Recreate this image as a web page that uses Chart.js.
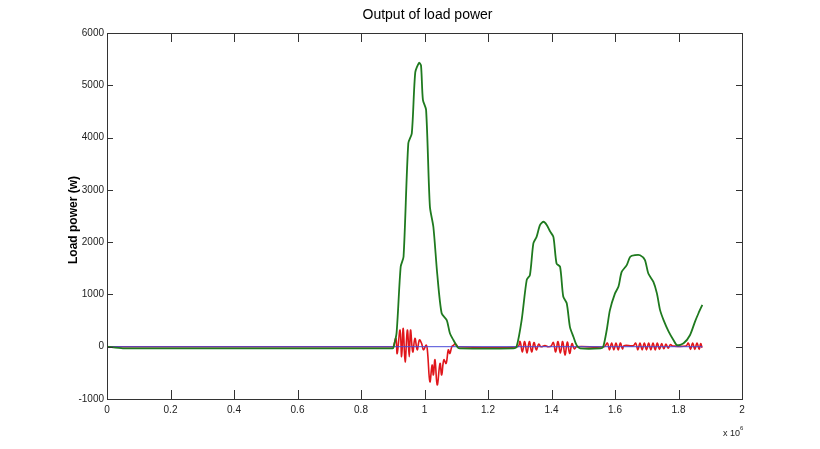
<!DOCTYPE html>
<html>
<head>
<meta charset="utf-8">
<script src="https://cdn.jsdelivr.net/npm/chart.js@4.4.1/dist/chart.umd.min.js"></script>
<style>
  html, body { margin: 0; padding: 0; background: #fff; }
  #wrap { width: 820px; height: 449px; }
</style>
</head>
<body>
<div id="wrap"><canvas id="loadChart"></canvas></div>
<script>
// x in units of 10^6, y in watts
const greenX = [0, 0.05, 0.60, 0.90, 0.903, 0.912, 0.925, 0.934, 0.949, 0.960, 0.971, 0.983, 0.989, 0.995, 1.005, 1.017, 1.028, 1.040, 1.054, 1.070, 1.080, 1.091, 1.103, 1.11, 1.28,
  1.290, 1.306, 1.322, 1.332, 1.343, 1.353, 1.364, 1.375, 1.385, 1.396, 1.406, 1.416, 1.427, 1.437, 1.448, 1.458, 1.469, 1.479, 1.49, 1.555,
  1.563, 1.574, 1.584, 1.600, 1.611, 1.621, 1.637, 1.648, 1.663, 1.679, 1.694, 1.705, 1.721, 1.732, 1.742, 1.753, 1.769, 1.784, 1.795, 1.816, 1.836, 1.852, 1.863, 1.875];
const greenY = [0, -30, -30, -30, 0, 260, 1530, 1720, 3890, 4080, 5250, 5430, 5380, 4720, 4530, 2680, 2290, 1400, 640, 510, 256, 128, 0, -30, -30,
  0, 510, 1280, 1370, 1980, 2100, 2330, 2390, 2330, 2200, 2100, 1590, 1530, 960, 830, 380, 190, 30, -30, -30,
  0, 320, 700, 1020, 1150, 1430, 1560, 1720, 1750, 1750, 1660, 1400, 1240, 1020, 700, 510, 290, 130, 30, 65, 220, 480, 640, 800];

const redX = [0, 0.90, 0.902, 0.910, 0.914, 0.923, 0.928, 0.933, 0.939, 0.946, 0.952, 0.956, 0.963, 0.970, 0.977, 0.984, 0.991, 0.997, 1.005, 1.009,
  1.017, 1.024, 1.028, 1.033, 1.040, 1.049, 1.054, 1.061, 1.068, 1.075, 1.080, 1.086, 1.092, 1.096, 1.101, 1.106,
  1.2935, 1.3008, 1.3082, 1.3155, 1.3228, 1.3302, 1.3375, 1.3449, 1.3522, 1.3596, 1.3669, 1.3795, 1.3900, 1.3984,
  1.4058, 1.4131, 1.4205, 1.4278, 1.4352, 1.4425, 1.4499, 1.4572, 1.4646, 1.4719, 1.4793,
  1.5654, 1.5759, 1.5827, 1.5895, 1.5963, 1.6031, 1.6100, 1.6168, 1.6236, 1.6283, 1.6577,
  1.6651, 1.6719, 1.6787, 1.6856, 1.6924, 1.6992, 1.7060, 1.7129, 1.7197, 1.7265, 1.7333, 1.7402, 1.7470, 1.7538, 1.7606, 1.7675, 1.7743, 1.7816, 1.8236,
  1.8310, 1.8378, 1.8446, 1.8514, 1.8583, 1.8651, 1.8698, 1.8740];
const redY = [0, 0, 0, 160, -130, 320, -190, 350, -290, 320, -190, 320, -100, 160, -60, 130, 60, -60, 30, -60,
  -670, -350, -540, -250, -730, -320, -540, -250, -320, -60, -130, 0, 30, 60, 30, 0,
  0, 100, -100, 100, -120, 100, -100, 80, -60, 50, 0, 20, 0, 10,
  80, -100, 100, -120, 100, -160, 90, -130, 60, -40, 0,
  0, 70, -60, 70, -60, 70, -60, 70, -40, 20, 20,
  70, -60, 70, -60, 70, -60, 70, -60, 70, -60, 70, -50, 60, -40, 50, -30, 40, 15, 15,
  70, -50, 70, -50, 70, -50, 60, -20];

const blueX = [0, 1.875];
const blueY = [0, 0];

const xTicks = [0, 0.2, 0.4, 0.6, 0.8, 1, 1.2, 1.4, 1.6, 1.8, 2];
const yTicks = [-1000, 0, 1000, 2000, 3000, 4000, 5000, 6000];

const FONT = "'Liberation Sans', Arial, sans-serif";

function toPoints(xs, ys) {
  return xs.map((x, i) => ({ x: x, y: ys[i] }));
}

// MATLAB style box with inward tick marks, title, y label and exponent note
const matlabFrame = {
  id: 'matlabFrame',
  afterDraw(chart) {
    const { ctx, chartArea: a, scales } = chart;
    ctx.save();
    ctx.strokeStyle = '#333';
    ctx.lineWidth = 1;
    ctx.strokeRect(Math.round(a.left) + 0.5, Math.round(a.top) + 0.5,
      Math.round(a.right - a.left), Math.round(a.bottom - a.top));
    ctx.beginPath();
    xTicks.slice(1, -1).forEach(v => {
      const px = Math.round(scales.x.getPixelForValue(v)) + 0.5;
      ctx.moveTo(px, a.bottom); ctx.lineTo(px, a.bottom - 9);
      ctx.moveTo(px, a.top); ctx.lineTo(px, a.top + 9);
    });
    yTicks.slice(1, -1).forEach(v => {
      const py = Math.round(scales.y.getPixelForValue(v)) + 0.5;
      ctx.moveTo(a.left, py); ctx.lineTo(a.left + 6, py);
      ctx.moveTo(a.right, py); ctx.lineTo(a.right - 6, py);
    });
    ctx.stroke();

    // title, centred over the plot box
    ctx.fillStyle = '#000';
    ctx.font = '14px ' + FONT;
    ctx.textAlign = 'center';
    ctx.textBaseline = 'middle';
    ctx.fillText('Output of load power', (a.left + a.right) / 2 + 3, 15);

    // y axis label
    ctx.font = 'bold 12px ' + FONT;
    ctx.translate(74, (a.top + a.bottom) / 2 + 4);
    ctx.rotate(-Math.PI / 2);
    ctx.fillText('Load power (w)', 0, 0);
    ctx.restore();

    // exponent
    ctx.save();
    ctx.fillStyle = '#222';
    ctx.font = '9px ' + FONT;
    ctx.textAlign = 'left';
    ctx.textBaseline = 'alphabetic';
    ctx.fillText('x 10', 723, 436);
    ctx.font = '6px ' + FONT;
    ctx.fillText('6', 740, 430);
    ctx.restore();
  }
};

new Chart(document.getElementById('loadChart'), {
  type: 'line',
  data: {
    datasets: [
      {
        label: 'green',
        data: toPoints(greenX, greenY),
        borderColor: '#1f7a1f',
        borderWidth: 1.8,
        pointRadius: 0,
        tension: 0.25,
        fill: false
      },
      {
        label: 'blue',
        data: toPoints(blueX, blueY),
        borderColor: '#4a4ad8',
        borderWidth: 1,
        pointRadius: 0,
        fill: false
      },
      {
        label: 'red',
        data: toPoints(redX, redY),
        borderColor: '#e0161b',
        borderWidth: 1.6,
        pointRadius: 0,
        tension: 0.4,
        fill: false
      }
    ]
  },
  options: {
    responsive: true,
    maintainAspectRatio: false,
    animation: false,
    layout: { padding: { left: 0, right: 78, top: 33, bottom: 0 } },
    plugins: {
      legend: { display: false },
      tooltip: { enabled: false },
      title: { display: false }
    },
    scales: {
      x: {
        type: 'linear',
        min: 0,
        max: 2,
        afterBuildTicks: scale => { scale.ticks = xTicks.map(v => ({ value: v })); },
        afterFit: scale => { scale.height = 50; },
        grid: { display: false, drawTicks: false },
        border: { display: false },
        ticks: {
          padding: 5,
          color: '#222',
          font: { size: 10, family: FONT },
          maxRotation: 0,
          callback: v => String(Number(v.toFixed(1)))
        }
      },
      y: {
        min: -1000,
        max: 6000,
        afterBuildTicks: scale => { scale.ticks = yTicks.map(v => ({ value: v })); },
        afterFit: scale => { scale.width = 107; },
        grid: { display: false, drawTicks: false },
        border: { display: false },
        ticks: {
          padding: 3,
          color: '#222',
          font: { size: 10, family: FONT },
          callback: v => String(v)
        }
      }
    }
  },
  plugins: [matlabFrame]
});
</script>
</body>
</html>
